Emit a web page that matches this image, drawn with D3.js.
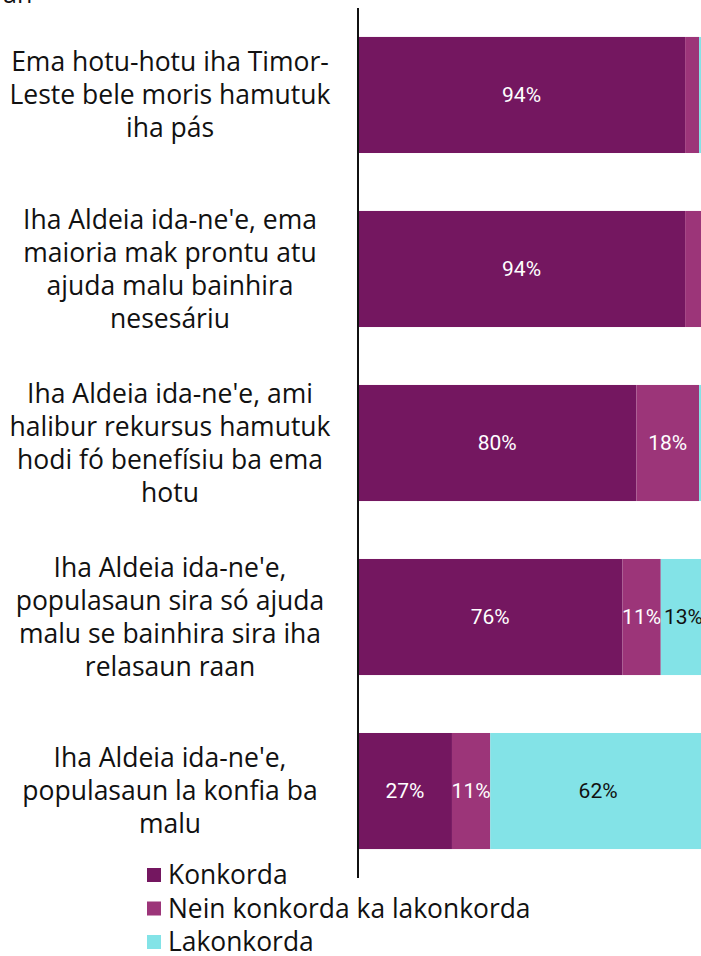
<!DOCTYPE html>
<html><head><meta charset="utf-8">
<script src="https://cdn.jsdelivr.net/npm/d3@7"></script>
<style>body{margin:0;background:#fff}svg{display:block}</style>
</head><body>
<script>
const categories = [
  ["Ema hotu-hotu iha Timor-","Leste bele moris hamutuk","iha pás"],
  ["Iha Aldeia ida-ne'e, ema","maioria mak prontu atu","ajuda malu bainhira","nesesáriu"],
  ["Iha Aldeia ida-ne'e, ami","halibur rekursus hamutuk","hodi fó benefísiu ba ema","hotu"],
  ["Iha Aldeia ida-ne'e,","populasaun sira só ajuda","malu se bainhira sira iha","relasaun raan"],
  ["Iha Aldeia ida-ne'e,","populasaun la konfia ba","malu"]
];
const seriesNames = ["Konkorda","Nein konkorda ka lakonkorda","Lakonkorda"];
const konkorda = [94, 94, 80, 76, 27];
const nein = [4, 6, 18, 11, 11];
const lakonkorda = [2, 0, 2, 13, 62];
const colors = ["#741760","#9c3579","#83e3e7"];
const labelColors = ["#ffffff","#ffffff","#111111"];

const W = 701, H = 956;
const svg = d3.select("body").append("svg").attr("width", W).attr("height", H);
const font = "'Open Sans', Arial, sans-serif";

const x0 = 358;
const x = d3.scaleLinear().domain([0, 100]).range([x0, x0 + 348]);
const y = d3.scaleBand().domain(d3.range(categories.length)).range([-21, 907]).paddingInner(0.333).paddingOuter(0.333);

const rows = categories.map((c, i) => ({i, vals: [konkorda[i], nein[i], lakonkorda[i]]}));
const stack = d3.stack().keys([0,1,2]).value((d, k) => d.vals[k]);
const stacked = stack(rows);

// truncated title remnant
svg.append("text").attr("x", 3).attr("y", 3).attr("font-family", font).attr("font-size", 25).attr("fill", "#111").text("an");

const g = svg.append("g");
stacked.forEach((layer, k) => {
  g.selectAll(null).data(layer).enter().append("rect")
    .attr("x", d => x(d[0])).attr("width", d => x(d[1]) - x(d[0]))
    .attr("y", d => y(d.data.i)).attr("height", y.bandwidth())
    .attr("fill", colors[k]);
  g.selectAll(null).data(layer.filter(d => d[1] - d[0] >= 10)).enter().append("text")
    .attr("x", d => (x(d[0]) + x(d[1])) / 2)
    .attr("y", d => y(d.data.i) + y.bandwidth() / 2)
    .attr("dy", "0.35em").attr("text-anchor", "middle")
    .attr("font-family", "Roboto, sans-serif").attr("font-size", 21)
    .attr("fill", labelColors[k])
    .text(d => (d[1] - d[0]) + "%");
});

// category labels
categories.forEach((lines, i) => {
  const cy = y(i) + y.bandwidth() / 2;
  const lh = 33;
  const t = svg.append("text").attr("font-family", font).attr("font-size", 26.5).attr("fill", "#111").attr("text-anchor", "middle");
  lines.forEach((ln, j) => {
    t.append("tspan").attr("x", 170).attr("y", cy + (j - (lines.length - 1) / 2) * lh).attr("dy", "0.35em").text(ln);
  });
});

// axis line
svg.append("line").attr("x1", x0).attr("x2", x0).attr("y1", 8).attr("y2", 878).attr("stroke", "#111").attr("stroke-width", 2);

// legend
const lg = svg.append("g");
seriesNames.forEach((n, k) => {
  const ly = 875 + k * 33.5;
  lg.append("rect").attr("x", 147).attr("y", ly - 7).attr("width", 14).attr("height", 14).attr("fill", colors[k]);
  lg.append("text").attr("x", 168).attr("y", ly).attr("dy", "0.35em").attr("font-family", font).attr("font-size", 26.4).attr("fill", "#111").text(n);
});
</script>
</body></html>
